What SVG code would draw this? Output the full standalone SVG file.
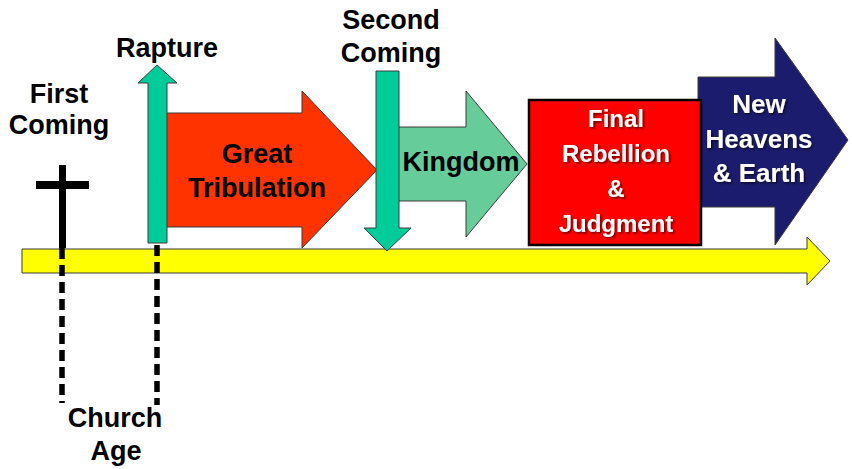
<svg xmlns="http://www.w3.org/2000/svg" width="852" height="469" viewBox="0 0 852 469">
<defs>
<style>
.lbl{font-family:"Liberation Sans",Arial,sans-serif;font-weight:bold;font-size:27px;fill:#000;text-anchor:middle}
.wt{font-family:"Liberation Sans",Arial,sans-serif;font-weight:bold;fill:#fff;text-anchor:middle}
.arw{stroke:#3a3a3a;stroke-width:1;stroke-linejoin:miter}
.dash{stroke:#000;stroke-width:5.5;stroke-dasharray:11 6;fill:none}
</style>
<filter id="sh" x="-10%" y="-10%" width="130%" height="130%">
<feDropShadow dx="1.5" dy="1.5" stdDeviation="0.8" flood-color="#000" flood-opacity="0.6"/>
</filter>
</defs>
<rect width="852" height="469" fill="#fff"/>

<g id="timeline">
<polygon class="arw" fill="#FFFF00" stroke="#6b6b00" points="22,249 807,249 807,237 830,261 807,285 807,273 22,273"/>
</g>

<g id="great-tribulation">
<polygon class="arw" fill="#FF3300" points="160,113 302,113 302,91 377,170 302,248 302,227 160,227"/>
<text class="lbl" x="257" y="163">Great</text>
<text class="lbl" x="257" y="197">Tribulation</text>
</g>

<g id="rapture">
<polygon class="arw" fill="#00CC99" points="148,243 148,83 138,83 157,65 177,83 167,83 167,243"/>
<text class="lbl" x="167" y="57">Rapture</text>
</g>

<g id="kingdom">
<polygon class="arw" fill="#66CC99" points="395,127 466,127 466,91 527,164 466,237 466,201 395,201"/>
<text class="lbl" x="461" y="171">Kingdom</text>
</g>

<g id="second-coming">
<polygon class="arw" fill="#00CC99" points="376,71 399,71 399,228 411,228 387,251 364,228 376,228"/>
<text class="lbl" x="391" y="29">Second</text>
<text class="lbl" x="391" y="62">Coming</text>
</g>

<g id="new-heavens">
<polygon class="arw" fill="#1C1C6E" points="698,77 775,77 775,38 848,140 775,245 775,207 698,207"/>
<text class="wt" font-size="26" x="759" y="113" filter="url(#sh)">New</text>
<text class="wt" font-size="26" x="759" y="148" filter="url(#sh)">Heavens</text>
<text class="wt" font-size="26" x="759" y="182" filter="url(#sh)">&amp; Earth</text>
</g>

<g id="final-rebellion">
<rect x="529" y="100" width="172" height="145" fill="#FF0000" stroke="#000" stroke-width="2.5"/>
<text class="wt" font-size="24" x="616" y="127" filter="url(#sh)">Final</text>
<text class="wt" font-size="24" x="616" y="162" filter="url(#sh)">Rebellion</text>
<text class="wt" font-size="24" x="616" y="197" filter="url(#sh)">&amp;</text>
<text class="wt" font-size="24" x="616" y="232" filter="url(#sh)">Judgment</text>
</g>

<g id="first-coming">
<rect x="59" y="165" width="7" height="83" fill="#000"/>
<rect x="36" y="181" width="53" height="8" fill="#000"/>
<text class="lbl" x="59" y="103">First</text>
<text class="lbl" x="59" y="134">Coming</text>
</g>

<g id="church-age">
<text class="lbl" x="115" y="427">Church</text>
<text class="lbl" x="116" y="460">Age</text>
</g>

<g id="connectors">
<line class="dash" x1="62" y1="248" x2="62" y2="403"/>
<line class="dash" x1="157" y1="245" x2="157" y2="405"/>
</g>
</svg>
